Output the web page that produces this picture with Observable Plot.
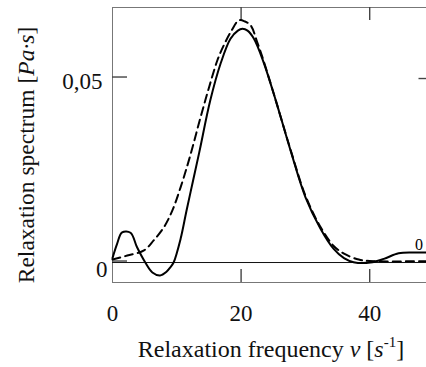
<!DOCTYPE html>
<html>
<head>
<meta charset="utf-8">
<script src="https://cdn.jsdelivr.net/npm/d3@7"></script>
<script src="https://cdn.jsdelivr.net/npm/@observablehq/plot@0.6"></script>
<style>
  html, body { margin: 0; padding: 0; background: #fff; overflow: hidden; width: 426px; height: 367px; }
  svg { max-width: none !important; }
  svg, svg text { font-family: "Liberation Serif", "Times New Roman", Times, serif !important; }
</style>
</head>
<body>
<div id="chart"></div>
<script>
// Computed relaxation spectrum (solid)
const solidX = [0, 0.7, 1.5, 2.8, 3.8, 5.1, 6.2, 7.4, 8.4, 9.0, 9.5, 10.6, 11.5, 12.5, 13.5, 15.2, 16.8, 18.35, 19.5, 20.2, 21.0, 22.0, 23.5, 25.4, 27.7, 30.0, 32.35, 34.4, 36.0, 37.5, 40.1, 42.2, 44.5, 47.0, 50];
const solidY = [0.0012, 0.0050, 0.0082, 0.0081, 0.0042, 0.0000, -0.0027, -0.0035, -0.0025, -0.0013, 0.0000, 0.0065, 0.0140, 0.0220, 0.0300, 0.0440, 0.0540, 0.0608, 0.0630, 0.0635, 0.0630, 0.0608, 0.0544, 0.0440, 0.0304, 0.0178, 0.0092, 0.0037, 0.0012, 0.0001, 0.0000, 0.0010, 0.0025, 0.0027, 0.0027];
// Original spectrum (dashed)
const dashX = [0, 2.3, 4.9, 6.4, 8.0, 9.3, 10.6, 12.0, 13.7, 15.0, 16.3, 17.3, 18.5, 19.65, 20.6, 21.5, 22.5, 23.5, 25.4, 27.7, 30.0, 32.3, 34.4, 36.0, 38.3, 40, 50];
const dashY = [0.0008, 0.0019, 0.0033, 0.0060, 0.0096, 0.0141, 0.0205, 0.0285, 0.0395, 0.0475, 0.0549, 0.0590, 0.0630, 0.0658, 0.0655, 0.0644, 0.0599, 0.0548, 0.0440, 0.0306, 0.0182, 0.0098, 0.0045, 0.0024, 0.0008, 0.0004, 0.0004];

const xTicks = [0, 20, 40];
const xInnerTicks = [20, 40];
const yTicks = [0, 0.05];
const yTickLabels = ["0", "0,05"];
const curveLabel = "0";
const xDomain = [0, 50];
const yDomain = [-0.00543, 0.0693];

const solid = solidX.map((x, i) => ({x, y: solidY[i]}));
const dashed = dashX.map((x, i) => ({x, y: dashY[i]}));
const fmtY = d => yTickLabels[yTicks.indexOf(d)];
const serif = "Liberation Serif, Times New Roman, serif";

const W = 440, H = 367, mT = 7, mB = 85, mL = 112, mR = 6.5;
const plotW = W - mL - mR, plotH = H - mT - mB;
const tickLenX = 13, tickLenY = 15;
// tick lengths expressed in data units of each scale
const yPerPx = (yDomain[1] - yDomain[0]) / plotH;
const xPerPx = (xDomain[1] - xDomain[0]) / plotW;
const yTickLen = tickLenX * yPerPx;
const xTickLen = tickLenY * xPerPx;
const tickStyle = {stroke: "#444", strokeWidth: 1.4};

const chart = Plot.plot({
  width: W,
  height: H,
  marginTop: mT,
  marginBottom: mB,
  marginLeft: mL,
  marginRight: mR,
  style: {fontFamily: serif, fontSize: "23px", background: "white", overflow: "visible"},
  x: {domain: xDomain},
  y: {domain: yDomain},
  marks: [
    Plot.frame({stroke: "#777"}),
    Plot.ruleY([0], {stroke: "#111"}),
    // inward ticks
    Plot.ruleX(xInnerTicks, {x: d => d, y1: yDomain[0], y2: yDomain[0] + yTickLen, ...tickStyle}),
    Plot.ruleX(xInnerTicks, {x: d => d, y1: yDomain[1] - yTickLen, y2: yDomain[1], ...tickStyle}),
    Plot.ruleY(yTicks, {y: d => d, x1: xDomain[0], x2: xDomain[0] + xTickLen, dy: -1.5, ...tickStyle}),
    Plot.ruleY([yTicks[1]], {y: d => d, x1: xDomain[1] - xTickLen, x2: xDomain[1], ...tickStyle}),
    // tick labels
    Plot.axisX({anchor: "bottom", ticks: xTicks, tickSize: 0, tickPadding: 22, label: null, fontSize: 23, fill: "#111"}),
    Plot.axisY({anchor: "left", ticks: [yTicks[1]], tickSize: 0, tickPadding: 10, dy: 3, tickFormat: fmtY, label: null, fontSize: 23, fill: "#111"}),
    Plot.axisY({anchor: "left", ticks: [yTicks[0]], tickSize: 0, tickPadding: 5, dy: 7, tickFormat: fmtY, label: null, fontSize: 23, fill: "#111"}),
    // curves
    Plot.line(dashed, {x: "x", y: "y", stroke: "#000", strokeWidth: 2, strokeDasharray: "8,5", curve: "catmull-rom"}),
    Plot.line(solid, {x: "x", y: "y", stroke: "#000", strokeWidth: 2, curve: "catmull-rom"}),
    Plot.text(solid, Plot.selectLast({x: "x", y: "y", text: () => curveLabel, dx: -15, dy: -8, fontSize: 16, fill: "#000"}))
  ]
});
chart.style.maxWidth = "none";
chart.style.fontFamily = serif;

const svg = d3.select(chart);
// X axis title
const xt = svg.append("text")
  .attr("x", 271).attr("y", 357)
  .attr("text-anchor", "middle")
  .attr("font-family", serif)
  .attr("font-size", 24).attr("fill", "#111");
xt.append("tspan").text("Relaxation frequency ");
xt.append("tspan").attr("font-style", "italic").text("ν");
xt.append("tspan").text(" [");
xt.append("tspan").attr("font-style", "italic").text("s");
xt.append("tspan").attr("font-size", 15).attr("dy", -10).text("-1");
xt.append("tspan").attr("dy", 10).text("]");

// Y axis title
const yt = svg.append("text")
  .attr("transform", "translate(34,155) rotate(-90)")
  .attr("text-anchor", "middle")
  .attr("font-family", serif)
  .attr("font-size", 23.5).attr("fill", "#111");
yt.append("tspan").text("Relaxation spectrum [");
yt.append("tspan").attr("font-style", "italic").text("Pa·s");
yt.append("tspan").text("]");

document.getElementById("chart").appendChild(chart);
</script>
</body>
</html>
